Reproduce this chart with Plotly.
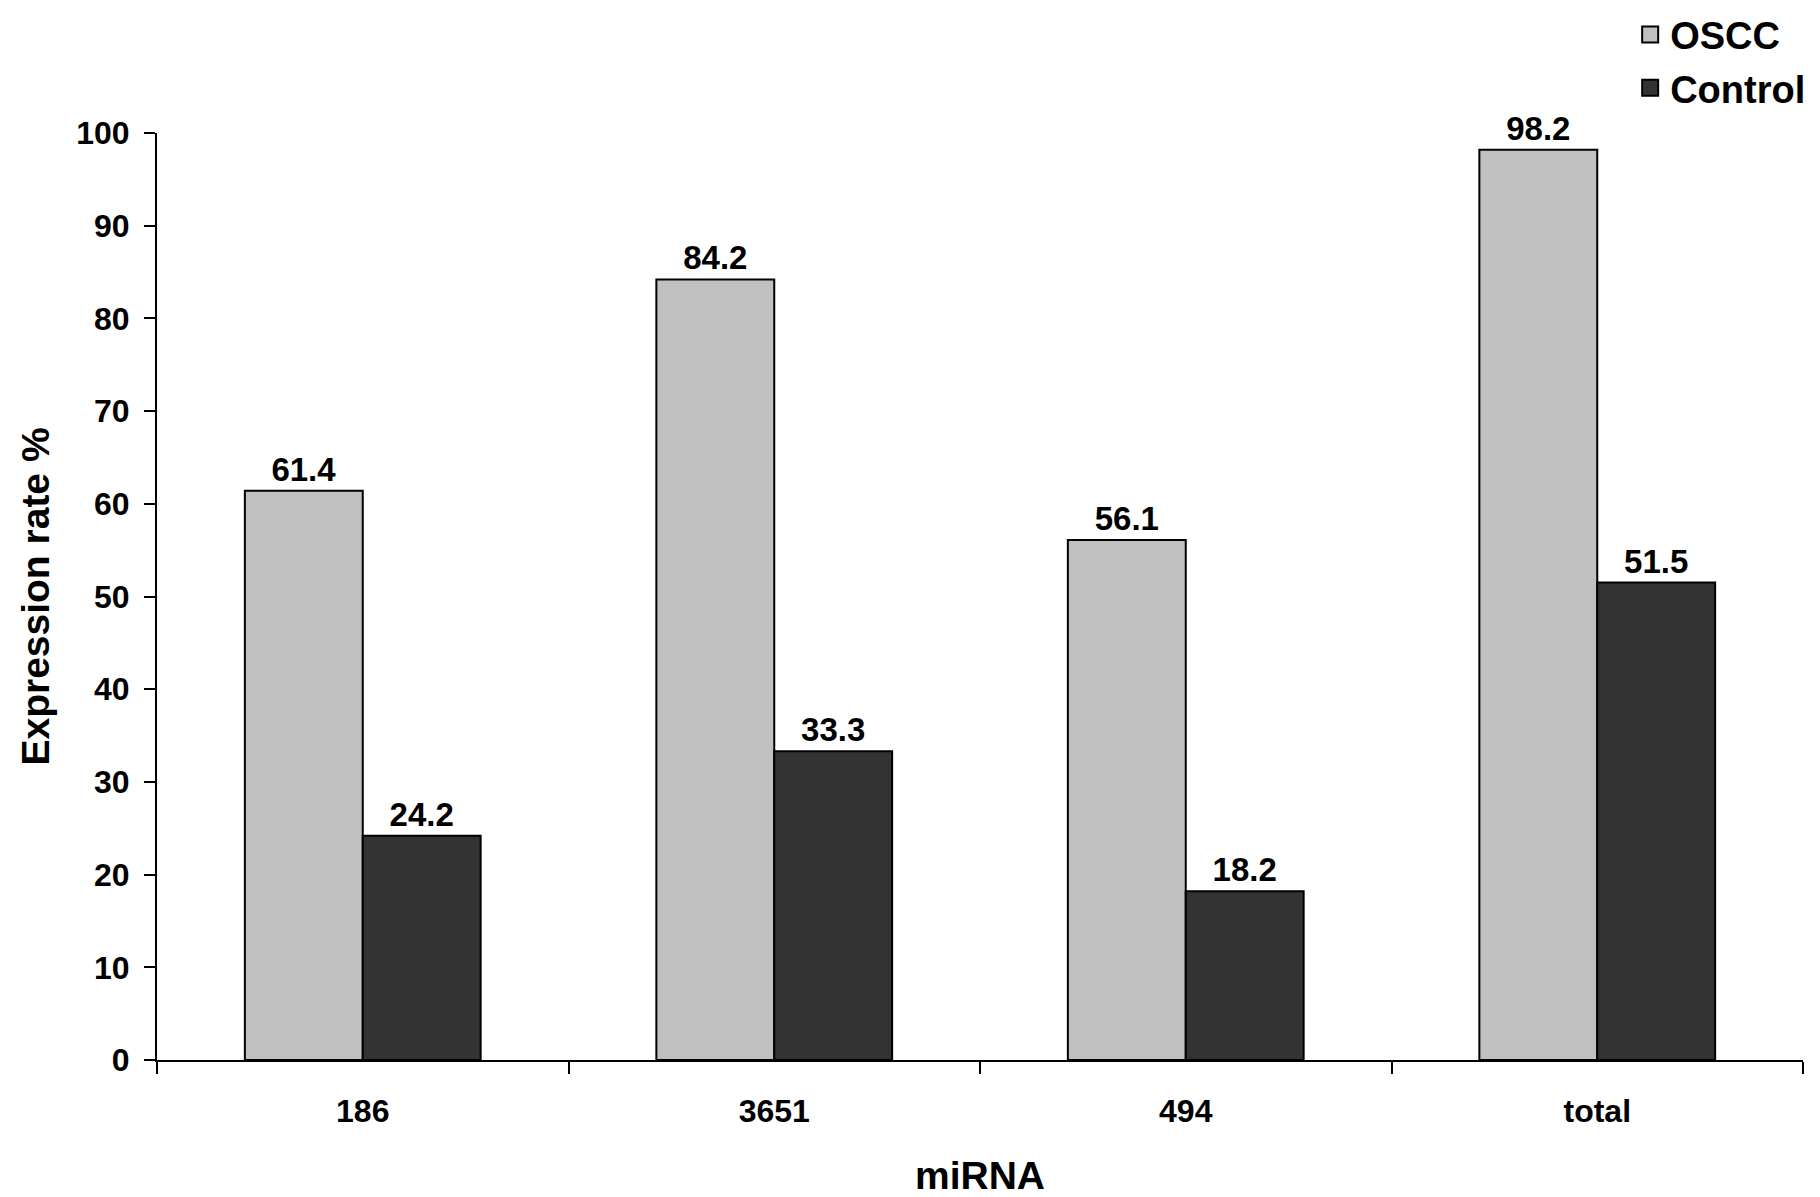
import plotly.graph_objects as go

categories = ["186", "3651", "494", "total"]
oscc = [61.4, 84.2, 56.1, 98.2]
control = [24.2, 33.3, 18.2, 51.5]
y_ticks = list(range(0, 101, 10))

FONT = "Arial, Liberation Sans, sans-serif"
OSCC_COLOR = "#C0C0C0"
CONTROL_COLOR = "#333333"

fig = go.Figure()
fig.add_trace(go.Bar(
    name="OSCC", x=categories, y=oscc,
    marker=dict(color=OSCC_COLOR, line=dict(color="black", width=2)),
    text=[f"{v:.1f}" for v in oscc], textposition="outside",
    textfont=dict(family=FONT, size=33, color="black", weight="bold"),
    cliponaxis=False, showlegend=False,
))
fig.add_trace(go.Bar(
    name="Control", x=categories, y=control,
    marker=dict(color=CONTROL_COLOR, line=dict(color="black", width=2)),
    text=[f"{v:.1f}" for v in control], textposition="outside",
    textfont=dict(family=FONT, size=33, color="black", weight="bold"),
    cliponaxis=False, showlegend=False,
))
# legend entries (square swatches)
for nm, col, grp in [("OSCC", OSCC_COLOR, "a"), ("Control", CONTROL_COLOR, "b")]:
    fig.add_trace(go.Scatter(
        x=[None], y=[None], mode="markers", name=nm, legendgroup=grp,
        marker=dict(symbol="square", size=25, color=col, line=dict(color="black", width=2)),
        hoverinfo="skip",
    ))

fig.update_layout(
    width=1812, height=1189,
    margin=dict(l=149, r=17, t=125, b=137, autoexpand=False),
    paper_bgcolor="white", plot_bgcolor="white",
    barmode="group", bargap=0.427, bargroupgap=0,
    font=dict(family=FONT, color="black"),
    legend=dict(
        x=0.895, xanchor="left", y=1.14, yanchor="top",
        font=dict(family=FONT, size=38, color="black", weight="bold"),
        traceorder="grouped", tracegroupgap=1,
        bgcolor="rgba(0,0,0,0)", itemsizing="trace",
    ),
    xaxis=dict(
        showline=True, linecolor="black", linewidth=2,
        ticks="outside", tickson="boundaries", ticklen=12, tickwidth=2, tickcolor="black",
        tickfont=dict(family=FONT, size=32, color="black", weight="bold"),
        ticklabelstandoff=22,
        showgrid=False, zeroline=False,
        title=dict(text="miRNA", font=dict(family=FONT, size=39, color="black", weight="bold"), standoff=35),
    ),
    yaxis=dict(
        range=[0, 100], tickvals=y_ticks,
        showline=True, linecolor="black", linewidth=2,
        ticks="outside", ticklen=11, tickwidth=2, tickcolor="black",
        tickfont=dict(family=FONT, size=32, color="black", weight="bold"),
        ticklabelstandoff=8,
        showgrid=False, zeroline=False,
        title=dict(text="Expression rate %", font=dict(family=FONT, size=39, color="black", weight="bold"), standoff=15),
    ),
)

fig.write_html("out.html")
